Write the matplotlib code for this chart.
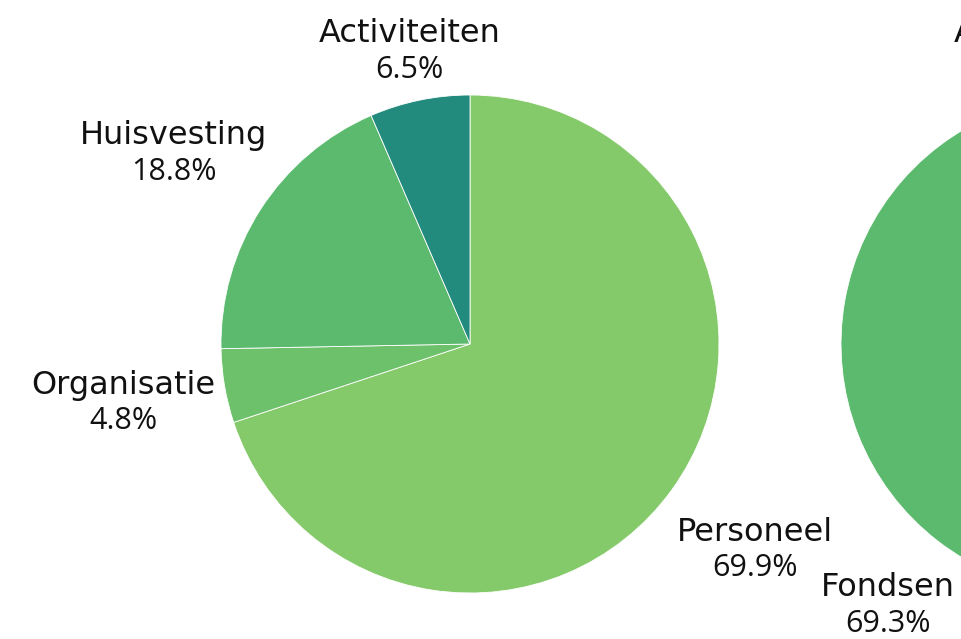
import numpy as np
import matplotlib.pyplot as plt

# Left pie (uitgaven)
left_labels = ["Personeel", "Organisatie", "Huisvesting", "Activiteiten"]
left_values = [69.9, 4.8, 18.8, 6.5]
left_colors = ["#84ca6a", "#6cc16a", "#5cba6e", "#228b7e"]

# Right pie (inkomsten), mostly cut off by the canvas edge
right_labels = ["Subsidies", "Fondsen", "Activiteiten"]
right_values = [25.8, 69.3, 4.9]
right_colors = ["#84ca6a", "#5cba6e", "#228b7e"]

W, H = 961, 639
fig = plt.figure(figsize=(W / 100, H / 100), dpi=100)
ax = fig.add_axes([0, 0, 1, 1])

R = 249
LABEL_R = 352
Y_MIN, Y_MAX = 52, 606
LINE_OFF = 18


def draw_pie(values, labels, colors, cx, cy):
    ax.pie(values, colors=colors, startangle=90, counterclock=False,
           center=(cx, H - cy), radius=R,
           wedgeprops=dict(edgecolor="white", linewidth=0.6))
    total = sum(values)
    cum = 0.0
    for v, name in zip(values, labels):
        mid = (cum + v / 2) / total * 2 * np.pi
        cum += v
        ux, uy = np.sin(mid), -np.cos(mid)
        r = LABEL_R
        # keep label inside the canvas by sliding it along its ray
        if cy + r * uy < Y_MIN:
            r = (Y_MIN - cy) / uy
        elif cy + r * uy > Y_MAX:
            r = (Y_MAX - cy) / uy
        lx, ly = cx + r * ux, cy + r * uy
        ax.text(lx, H - (ly - LINE_OFF), name, ha="center", va="center",
                fontsize=23, family="DejaVu Sans", color="#111111")
        ax.text(lx, H - (ly + LINE_OFF), f"{v:.1f}%", ha="center", va="center",
                fontsize=22, family="Open Sans", color="#111111")


draw_pie(left_values, left_labels, left_colors, 470, 344)
draw_pie(right_values, right_labels, right_colors, 1090, 344)

ax.set_xlim(0, W)
ax.set_ylim(0, H)
ax.set_aspect("auto")
ax.axis("off")
fig.savefig("out.png", dpi=100)
